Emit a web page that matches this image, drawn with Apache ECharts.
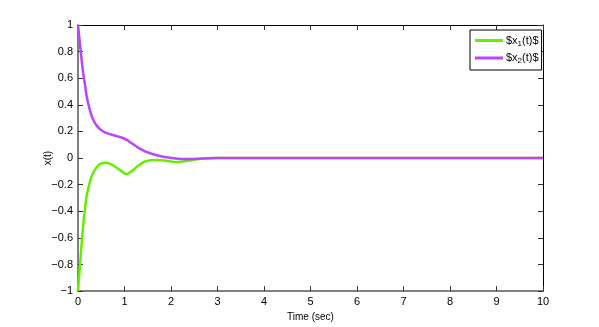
<!DOCTYPE html>
<html>
<head>
<meta charset="utf-8">
<script src="https://cdn.jsdelivr.net/npm/echarts@6/dist/echarts.min.js"></script>
<style>
  html, body { margin: 0; padding: 0; background: #fff; }
  #chart { width: 599px; height: 327px; }
</style>
</head>
<body>
<div id="chart"></div>
<script>
// sample times (sec)
let time = [0, 0.05, 0.1, 0.15, 0.2, 0.3, 0.4, 0.5, 0.6, 0.7, 0.8, 0.9, 1.0, 1.05, 1.1, 1.2, 1.3, 1.4, 1.5, 1.6, 1.8, 2.0, 2.1, 2.2, 2.4, 2.6, 2.8, 3.0, 4, 5, 6, 7, 8, 9, 10]
let x1 = [-1, -0.77, -0.55, -0.38, -0.26, -0.13, -0.07, -0.04, -0.035, -0.045, -0.065, -0.09, -0.115, -0.12, -0.112, -0.086, -0.056, -0.032, -0.02, -0.014, -0.016, -0.026, -0.03, -0.029, -0.018, -0.008, -0.002, 0, 0, 0, 0, 0, 0, 0, 0]
let x2 = [1, 0.83, 0.67, 0.55, 0.44, 0.31, 0.245, 0.21, 0.19, 0.178, 0.168, 0.158, 0.145, 0.136, 0.125, 0.1, 0.077, 0.058, 0.042, 0.03, 0.012, 0.001, -0.004, -0.007, -0.008, -0.005, -0.001, 0, 0, 0, 0, 0, 0, 0, 0]
let seriesNames = ['$x_1(t)$', '$x_2(t)$']
let colors = ['#66ee00', '#bb44ff']

let chart = echarts.init(document.getElementById('chart'))

let pairs = function (ys) {
  return time.map(function (t, i) { return [t, ys[i]] })
}

let fontFamily = '"Liberation Sans", Arial, sans-serif'

let option = {
  backgroundColor: '#fff',
  animation: false,
  grid: { left: 78, right: 56, top: 25, bottom: 35 },
  legend: {
    left: 470,
    top: 30,
    orient: 'vertical',
    padding: [5, 3, 5, 5],
    itemGap: 5,
    itemWidth: 28,
    itemHeight: 3,
    icon: 'rect',
    backgroundColor: '#fff',
    borderColor: '#000',
    borderWidth: 1,
    data: seriesNames,
    formatter: function (name) {
      return name.replace(/_(\d)/, '{sub|$1}')
    },
    textStyle: {
      fontFamily: fontFamily,
      fontSize: 11,
      color: '#000',
      padding: [0, 0, 0, -2],
      rich: {
        sub: { fontSize: 8, verticalAlign: 'bottom', padding: [6, 0, 0, 0], fontFamily: fontFamily, color: '#000' }
      }
    }
  },
  xAxis: [
    {
      type: 'value',
      min: 0,
      max: 10,
      interval: 1,
      name: 'Time (sec)',
      nameLocation: 'middle',
      nameGap: 20,
      nameTextStyle: { fontFamily: fontFamily, fontSize: 10, color: '#000' },
      axisLine: { show: true, onZero: false, lineStyle: { color: '#808080', width: 2 } },
      axisTick: { inside: true, length: 5, lineStyle: { color: '#333' } },
      axisLabel: { fontFamily: fontFamily, fontSize: 11, color: '#000', margin: 5 },
      splitLine: { show: false }
    },
    {
      type: 'value',
      position: 'top',
      min: 0,
      max: 10,
      interval: 1,
      axisLine: { show: true, onZero: false, lineStyle: { color: '#000', width: 1 } },
      axisTick: { inside: true, length: 5, lineStyle: { color: '#333' } },
      axisLabel: { show: false },
      splitLine: { show: false }
    }
  ],
  yAxis: [
    {
      type: 'value',
      min: -1,
      max: 1,
      interval: 0.2,
      name: 'x(t)',
      nameLocation: 'middle',
      nameGap: 25,
      nameMoveOverlap: false,
      nameTextStyle: { fontFamily: fontFamily, fontSize: 10, color: '#000' },
      axisLine: { show: true, onZero: false, lineStyle: { color: '#808080', width: 2 } },
      axisTick: { inside: true, length: 5, lineStyle: { color: '#333' } },
      axisLabel: {
        fontFamily: fontFamily,
        fontSize: 11,
        color: '#000',
        margin: 5,
        formatter: function (v) {
          let s = String(Math.round(v * 10) / 10)
          return s.replace('-', '\u2212')
        }
      },
      splitLine: { show: false }
    },
    {
      type: 'value',
      position: 'right',
      min: -1,
      max: 1,
      interval: 0.2,
      axisLine: { show: true, onZero: false, lineStyle: { color: '#000', width: 1 } },
      axisTick: { inside: true, length: 5, lineStyle: { color: '#333' } },
      axisLabel: { show: false },
      splitLine: { show: false }
    }
  ],
  series: [
    {
      name: seriesNames[0],
      type: 'line',
      data: pairs(x1),
      smooth: 0.3,
      symbol: 'none',
      lineStyle: { color: colors[0], width: 2.5 },
      itemStyle: { color: colors[0] }
    },
    {
      name: seriesNames[1],
      type: 'line',
      data: pairs(x2),
      smooth: 0.3,
      symbol: 'none',
      lineStyle: { color: colors[1], width: 2.5 },
      itemStyle: { color: colors[1] }
    }
  ]
}

chart.setOption(option)
</script>
</body>
</html>
